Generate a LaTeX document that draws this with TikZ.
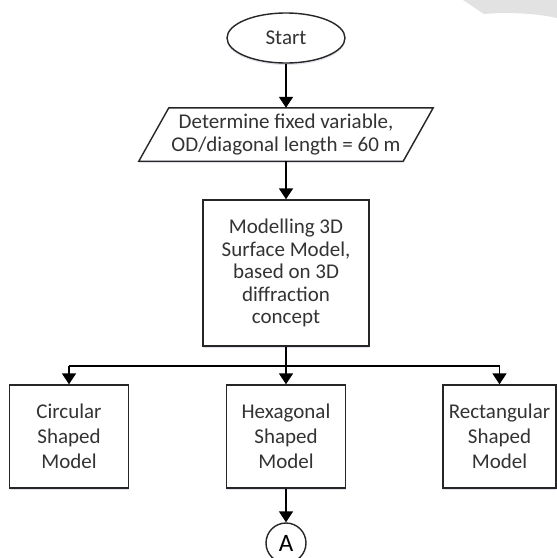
\documentclass[tikz,border=0pt]{standalone}
\usepackage{fontspec}
\setmainfont{Carlito}
\usetikzlibrary{shapes.geometric,arrows.meta,shadows}
\definecolor{txt}{HTML}{333333}
\definecolor{blob}{HTML}{E2E2E2}
\begin{document}
\begin{tikzpicture}[x=1pt,y=-1pt,
  every node/.style={font=\fontsize{21}{23}\selectfont, text=txt, align=center, inner sep=0pt},
  boxline/.style={draw=black!85, line width=1.4pt},
  shadowed/.style={drop shadow={shadow xshift=0pt, shadow yshift=-2pt, fill=blue!25!gray!40, opacity=0.45}},
  procbox/.style={boxline, fill=white, rectangle, shadowed},
  conn/.style={draw=black, line width=1.6pt},
  arr/.style={conn, -{Triangle[width=14pt,length=11pt]}},
  lowbox/.style={procbox, minimum height=103pt, font=\fontsize{21}{25}\selectfont}
]
\useasboundingbox (0,0) rectangle (557,558);
\fill[white] (0,0) rectangle (557,558);
% light grey blob top right
\fill[blob] (463,0) -- (484,14) .. controls (505,12) and (535,13) .. (557,18) -- (557,0) -- cycle;

% start
\node[boxline, ellipse, fill=white, minimum width=118pt, minimum height=50pt, shadowed] (start) at (286,38) {Start};

% input parallelogram (text node + drawn outline)
\node[minimum width=264pt, minimum height=53pt] (input) at (286,134.5) {};
\fill[blue!25!gray!40, opacity=0.45] ([xshift=15pt,yshift=-2pt]input.north west) -- ([xshift=15pt,yshift=-2pt]input.north east)
   -- ([xshift=-15pt,yshift=-2pt]input.south east) -- ([xshift=-15pt,yshift=-2pt]input.south west) -- cycle;
\filldraw[boxline, fill=white] ([xshift=15pt]input.north west) -- ([xshift=15pt]input.north east)
   -- ([xshift=-15pt]input.south east) -- ([xshift=-15pt]input.south west) -- cycle;
\node (inputtext) at (input.center) {Determine fixed variable,\\OD/diagonal length = 60 m};

% main process
\node[procbox, minimum width=166pt, minimum height=146pt, font=\fontsize{21}{22.5}\selectfont] (main) at (286,273)
  {Modelling 3D\\Surface Model,\\based on 3D\\diffraction\\concept};

% bottom boxes
\node[lowbox, minimum width=119pt] (circ) at (69,436.5) {Circular\\Shaped\\Model};
\node[lowbox, minimum width=119pt] (hexa) at (286,436.5) {Hexagonal\\Shaped\\Model};
\node[lowbox, minimum width=113pt] (rect) at (499.5,436.5) {Rectangular\\Shaped\\Model};

% connector A
\node[boxline, circle, fill=white, minimum size=40pt, text=black, font=\fontsize{25}{25}\selectfont] (conA) at (286,543) {A};

\coordinate (bus) at (286,366);

% connectors
\draw[arr] (start.south) -- (input.north);
\draw[arr] (input.south) -- (main.north);
\draw[conn] (circ.north |- bus) -- (rect.north |- bus);
\draw[arr] (main.south) -- (hexa.north);
\draw[arr] (circ.north |- bus) -- (circ.north);
\draw[arr] (rect.north |- bus) -- (rect.north);
\draw[arr] (hexa.south) -- (conA.north);
\end{tikzpicture}
\end{document}
